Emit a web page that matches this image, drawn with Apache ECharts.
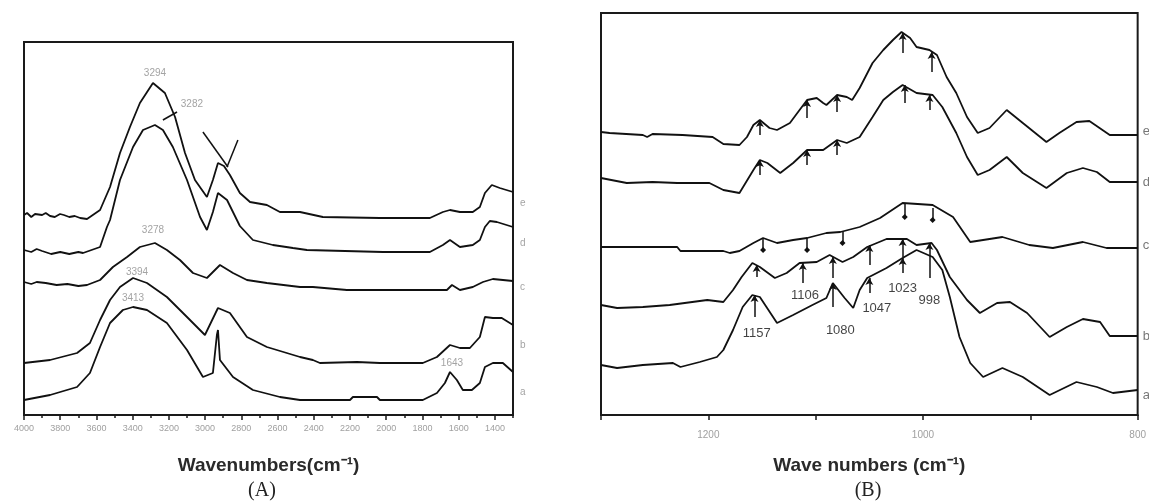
<!DOCTYPE html>
<html>
<head>
<meta charset="utf-8">
<script src="https://cdn.jsdelivr.net/npm/echarts@6/dist/echarts.min.js"></script>
<style>
  html, body { margin: 0; padding: 0; background: #fff; }
  #chart { width: 1149px; height: 503px; }
</style>
</head>
<body>
<div id="chart"></div>
<script>
// ---------- Panel A: full-range FTIR spectra, [wavenumber cm-1, absorbance a.u.] ----------
const specA_e = [[4000,2.00],[3983,2.02],[3960,1.98],[3939,2.01],[3900,2.00],[3880,2.02],[3856,1.99],[3830,1.98],[3801,2.01],[3780,2.00],[3750,1.98],[3720,1.99],[3690,1.97],[3652,1.96],[3580,2.05],[3525,2.28],[3470,2.62],[3415,2.88],[3360,3.12],[3288,3.32],[3222,3.22],[3166,2.98],[3111,2.62],[3056,2.35],[2990,2.18],[2957,2.35],[2929,2.52],[2896,2.49],[2863,2.40],[2808,2.22],[2752,2.13],[2659,2.10],[2587,2.03],[2476,2.03],[2350,1.98],[2035,1.97],[1759,1.97],[1687,2.03],[1648,2.05],[1593,2.03],[1522,2.03],[1483,2.08],[1455,2.22],[1417,2.30],[1373,2.27],[1300,2.23]];
const specA_d = [[4000,1.65],[3960,1.63],[3930,1.66],[3900,1.64],[3850,1.61],[3800,1.63],[3750,1.61],[3700,1.63],[3674,1.62],[3580,1.68],[3542,1.88],[3525,1.95],[3470,2.35],[3398,2.68],[3343,2.85],[3277,2.90],[3233,2.85],[3178,2.68],[3100,2.35],[3028,1.98],[2990,1.85],[2957,2.03],[2929,2.22],[2879,2.15],[2808,1.89],[2736,1.75],[2626,1.70],[2515,1.67],[2438,1.65],[2018,1.63],[1759,1.63],[1687,1.70],[1648,1.75],[1593,1.68],[1522,1.70],[1483,1.75],[1455,1.88],[1428,1.94],[1389,1.93],[1300,1.88]];
const specA_c = [[4000,1.33],[3960,1.31],[3930,1.33],[3880,1.32],[3820,1.30],[3760,1.31],[3700,1.29],[3652,1.30],[3580,1.35],[3509,1.48],[3431,1.58],[3360,1.68],[3277,1.72],[3211,1.65],[3139,1.55],[3067,1.42],[2990,1.37],[2918,1.50],[2846,1.42],[2769,1.35],[2659,1.32],[2476,1.28],[2405,1.28],[2217,1.25],[1665,1.25],[1637,1.30],[1593,1.25],[1522,1.28],[1466,1.33],[1411,1.36],[1300,1.34]];
const specA_b = [[4000,0.52],[3856,0.55],[3707,0.62],[3636,0.72],[3580,0.95],[3525,1.15],[3470,1.28],[3398,1.37],[3321,1.32],[3211,1.18],[3100,0.98],[3001,0.80],[2929,1.07],[2863,1.02],[2769,0.78],[2659,0.68],[2476,0.58],[2405,0.55],[2366,0.52],[2162,0.53],[2035,0.52],[1798,0.52],[1720,0.58],[1648,0.70],[1593,0.67],[1538,0.67],[1483,0.78],[1455,0.98],[1411,0.97],[1362,0.97],[1300,0.90]];
const specA_a = [[4000,0.15],[3856,0.20],[3707,0.28],[3636,0.42],[3580,0.68],[3525,0.92],[3454,1.05],[3398,1.08],[3321,1.05],[3211,0.92],[3100,0.65],[3012,0.38],[2957,0.42],[2935,0.80],[2929,0.85],[2918,0.55],[2846,0.38],[2736,0.25],[2587,0.18],[2476,0.15],[2200,0.15],[2184,0.18],[2051,0.18],[2035,0.15],[1798,0.15],[1720,0.22],[1676,0.32],[1648,0.43],[1610,0.35],[1577,0.25],[1527,0.25],[1483,0.32],[1455,0.48],[1411,0.52],[1356,0.52],[1300,0.43]];

const ticksMajorA = [4000,3800,3600,3400,3200,3000,2800,2600,2400,2200,2000,1800,1600,1400];
const ticksMinorA = [3900,3700,3500,3300,3100,2900,2700,2500,2300,2100,1900,1700,1500,1300];
const ticksB = [1300,1200,1100,1000,900,800];
const labelsB = [1200,1000,800];

// peak labels and pointer lines, panel A
const peakLabelsA = [
  { name: '3294', value: [3277, 3.42] },
  { name: '3282', value: [3073, 3.11] },
  { name: '3278', value: [3288, 1.85] },
  { name: '3394', value: [3376, 1.43] },
  { name: '3413', value: [3398, 1.17] },
  { name: '1643', value: [1637, 0.52] }
];
const pointersA = [
  [[3012, 2.83], [2874, 2.48]],
  [[2819, 2.75], [2879, 2.48]],
  [[3233, 2.95], [3155, 3.03]]
];
const curveTagsA = [
  { name: 'e', value: [1300, 2.12] },
  { name: 'd', value: [1300, 1.72] },
  { name: 'c', value: [1300, 1.28] },
  { name: 'b', value: [1300, 0.70] },
  { name: 'a', value: [1300, 0.23] }
];

// ---------- Panel B: fingerprint region 1300-800 cm-1 ----------
const specB_e = [[1300,2.83],[1292,2.82],[1261,2.80],[1257,2.78],[1252,2.81],[1224,2.80],[1196,2.78],[1186,2.71],[1171,2.70],[1164,2.78],[1158,2.90],[1152,2.95],[1143,2.87],[1136,2.85],[1124,2.92],[1115,3.05],[1108,3.15],[1099,3.17],[1093,3.12],[1090,3.10],[1080,3.20],[1071,3.18],[1066,3.15],[1059,3.27],[1047,3.52],[1037,3.65],[1028,3.75],[1020,3.83],[1012,3.77],[1006,3.68],[994,3.65],[987,3.60],[978,3.38],[969,3.22],[959,2.98],[949,2.82],[938,2.87],[922,3.05],[907,2.92],[885,2.73],[873,2.82],[857,2.93],[845,2.94],[826,2.80],[800,2.80]];
const specB_d = [[1300,2.37],[1276,2.32],[1252,2.33],[1229,2.32],[1199,2.32],[1186,2.25],[1171,2.22],[1158,2.45],[1152,2.55],[1145,2.52],[1133,2.42],[1121,2.52],[1108,2.65],[1093,2.65],[1080,2.75],[1071,2.72],[1059,2.78],[1047,2.98],[1037,3.15],[1028,3.23],[1019,3.30],[1006,3.22],[991,3.20],[982,3.08],[969,2.82],[959,2.58],[949,2.40],[938,2.45],[922,2.58],[907,2.42],[885,2.27],[866,2.42],[851,2.47],[838,2.43],[826,2.33],[800,2.33]];
const specB_c = [[1300,1.68],[1229,1.68],[1226,1.64],[1186,1.64],[1180,1.62],[1171,1.64],[1158,1.72],[1149,1.77],[1136,1.72],[1121,1.75],[1108,1.77],[1090,1.82],[1077,1.83],[1059,1.88],[1040,1.97],[1019,2.12],[991,2.10],[972,1.98],[956,1.73],[926,1.78],[901,1.70],[879,1.67],[851,1.73],[829,1.67],[800,1.67]];
const specB_b = [[1300,1.10],[1285,1.07],[1261,1.08],[1236,1.10],[1201,1.15],[1186,1.13],[1177,1.25],[1169,1.38],[1159,1.52],[1152,1.48],[1138,1.37],[1127,1.42],[1115,1.52],[1099,1.53],[1087,1.60],[1075,1.53],[1065,1.58],[1052,1.68],[1034,1.76],[1015,1.76],[1006,1.70],[992,1.72],[987,1.65],[975,1.38],[959,1.15],[947,1.02],[931,1.12],[919,1.13],[903,1.02],[882,0.78],[866,0.88],[851,0.96],[835,0.93],[826,0.79],[800,0.79]];
const specB_a = [[1300,0.50],[1285,0.47],[1261,0.50],[1233,0.52],[1226,0.48],[1208,0.53],[1192,0.58],[1186,0.65],[1177,0.85],[1168,1.08],[1159,1.20],[1152,1.18],[1136,0.92],[1121,1.00],[1103,1.10],[1090,1.17],[1084,1.32],[1073,1.17],[1065,1.07],[1059,1.25],[1052,1.37],[1034,1.47],[1019,1.57],[1006,1.65],[991,1.58],[982,1.45],[975,1.18],[966,0.78],[956,0.52],[944,0.38],[926,0.47],[907,0.38],[882,0.20],[857,0.33],[838,0.28],[823,0.22],[800,0.25]];

// band markers: [wavenumber, top, bottom]
const marksB_e = [[1152,2.95,2.80],[1108,3.15,2.97],[1080,3.20,3.03],[1019,3.82,3.62],[992,3.63,3.43]];
const marksB_d = [[1152,2.55,2.40],[1108,2.65,2.50],[1080,2.75,2.60],[1017,3.30,3.12],[994,3.20,3.05]];
const marksB_c = [[1149,1.77,1.65],[1108,1.77,1.65],[1075,1.83,1.72],[1017,2.12,1.98],[991,2.07,1.95]];
const marksB_b = [[1155,1.50,1.38],[1112,1.52,1.32],[1084,1.58,1.37],[1050,1.70,1.50],[1019,1.76,1.58],[994,1.72,1.37]];
const marksB_a = [[1157,1.20,0.98],[1084,1.32,1.08],[1050,1.37,1.22],[1019,1.57,1.42]];

const bandLabelsB = [
  { name: '1157', value: [1155, 0.82] },
  { name: '1106', value: [1110, 1.20] },
  { name: '1080', value: [1077, 0.85] },
  { name: '1047', value: [1043, 1.07] },
  { name: '1023', value: [1019, 1.27] },
  { name: '998',  value: [994, 1.15] }
];
const curveTagsB = [
  { name: 'e', value: [800, 2.84] },
  { name: 'd', value: [800, 2.33] },
  { name: 'c', value: [800, 1.70] },
  { name: 'b', value: [800, 0.79] },
  { name: 'a', value: [800, 0.20] }
];

const INK = '#111';
const GREY = '#8c8c8c';
const FRAME = '#1a1a1a';

function spectrum(data, axis, marks, head) {
  const s = {
    type: 'line', xAxisIndex: axis.x, yAxisIndex: axis.y, data: data,
    symbol: 'none', silent: true, animation: false, z: 3,
    lineStyle: { color: INK, width: 1.8 }
  };
  if (marks) {
    s.markLine = {
      silent: true, animation: false,
      symbol: head === 'bottom' ? ['none', 'diamond'] : ['arrow', 'none'],
      symbolSize: head === 'bottom' ? 6 : [6, 7],
      label: { show: false },
      lineStyle: { color: INK, width: 1.5, type: 'solid' },
      data: marks.map(m => [{ coord: [m[0], m[1]] }, { coord: [m[0], m[2]] }])
    };
  }
  return s;
}

function textSeries(items, axis, style, pos, dist) {
  return {
    type: 'scatter', xAxisIndex: axis.x, yAxisIndex: axis.y, data: items,
    symbolSize: 0, silent: true, animation: false, z: 5, clip: false,
    label: Object.assign({ show: true, formatter: '{b}', position: pos || 'inside', distance: dist || 0 }, style)
  };
}

// an x axis that only draws ticks at the given values
function tickAxis(grid, min, max, values, len) {
  return {
    gridIndex: grid, type: 'value', inverse: true, min: min, max: max, position: 'bottom',
    axisLine: { show: false },
    axisTick: { show: true, inside: false, customValues: values, length: len, lineStyle: { color: FRAME, width: 1.5 } },
    axisLabel: { show: false },
    splitLine: { show: false }
  };
}

const AX_A = { x: 0, y: 0 };
const AX_B = { x: 3, y: 1 };

const pointerSeries = pointersA.map(seg => ({
  type: 'line', xAxisIndex: 0, yAxisIndex: 0, data: seg, symbol: 'none',
  silent: true, animation: false, z: 4, lineStyle: { color: INK, width: 1.5 }
}));

const axisNameStyle = {
  fontSize: 19, fontWeight: 'bold', color: '#2a2a2a', fontFamily: 'Liberation Sans'
};

const option = {
  backgroundColor: '#fff',
  animation: false,
  grid: [
    { left: 24, top: 42, width: 489, height: 373, show: true, borderColor: FRAME, borderWidth: 2, containLabel: false },
    { left: 601, top: 13, width: 537, height: 402, show: true, borderColor: FRAME, borderWidth: 2, containLabel: false }
  ],
  xAxis: [
    {
      gridIndex: 0, type: 'value', inverse: true, min: 1300, max: 4000, position: 'bottom',
      axisLine: { show: true, lineStyle: { color: FRAME, width: 2 } },
      axisTick: { show: false },
      axisLabel: { customValues: ticksMajorA, fontSize: 9, color: '#a0a0a0', margin: 9,
                   fontFamily: 'Liberation Sans', formatter: v => String(v) },
      splitLine: { show: false },
      name: 'Wavenumbers(cm\u207B\u00B9)', nameLocation: 'middle', nameGap: 41, nameTextStyle: axisNameStyle
    },
    tickAxis(0, 1300, 4000, ticksMajorA, 5),
    tickAxis(0, 1300, 4000, ticksMinorA, 3),
    {
      gridIndex: 1, type: 'value', inverse: true, min: 800, max: 1300, position: 'bottom',
      axisLine: { show: true, lineStyle: { color: FRAME, width: 2 } },
      axisTick: { show: false },
      axisLabel: { customValues: labelsB, fontSize: 10, color: '#a0a0a0', margin: 15,
                   fontFamily: 'Liberation Sans', formatter: v => String(v) },
      splitLine: { show: false },
      name: 'Wave numbers (cm\u207B\u00B9)', nameLocation: 'middle', nameGap: 41, nameTextStyle: axisNameStyle
    },
    tickAxis(1, 800, 1300, ticksB, 5)
  ],
  yAxis: [
    { gridIndex: 0, type: 'value', min: 0, max: 3.73, show: true,
      axisLine: { show: false }, axisTick: { show: false }, axisLabel: { show: false }, splitLine: { show: false } },
    { gridIndex: 1, type: 'value', min: 0, max: 4.02, show: true,
      axisLine: { show: false }, axisTick: { show: false }, axisLabel: { show: false }, splitLine: { show: false } }
  ],
  graphic: [
    { type: 'text', x: 262, y: 491, style: { text: '(A)', fill: '#222', font: '20px "Liberation Serif"', textAlign: 'center', textVerticalAlign: 'middle' } },
    { type: 'text', x: 868, y: 491, style: { text: '(B)', fill: '#222', font: '20px "Liberation Serif"', textAlign: 'center', textVerticalAlign: 'middle' } }
  ],
  series: [
    spectrum(specA_e, AX_A), spectrum(specA_d, AX_A), spectrum(specA_c, AX_A),
    spectrum(specA_b, AX_A), spectrum(specA_a, AX_A),
    ...pointerSeries,
    textSeries(peakLabelsA, AX_A, { fontSize: 10, color: GREY, fontFamily: 'Liberation Sans' }),
    textSeries(curveTagsA, AX_A, { fontSize: 10, color: GREY, fontFamily: 'Liberation Sans' }, 'right', 7),

    spectrum(specB_e, AX_B, marksB_e, 'top'), spectrum(specB_d, AX_B, marksB_d, 'top'),
    spectrum(specB_c, AX_B, marksB_c, 'bottom'), spectrum(specB_b, AX_B, marksB_b, 'top'),
    spectrum(specB_a, AX_B, marksB_a, 'top'),
    textSeries(bandLabelsB, AX_B, { fontSize: 13, color: INK, fontFamily: 'Liberation Sans' }),
    textSeries(curveTagsB, AX_B, { fontSize: 13, color: '#555', fontFamily: 'Liberation Sans' }, 'right', 5)
  ]
};

const chart = echarts.init(document.getElementById('chart'), null, { renderer: 'canvas' });
chart.setOption(option);
</script>
</body>
</html>
